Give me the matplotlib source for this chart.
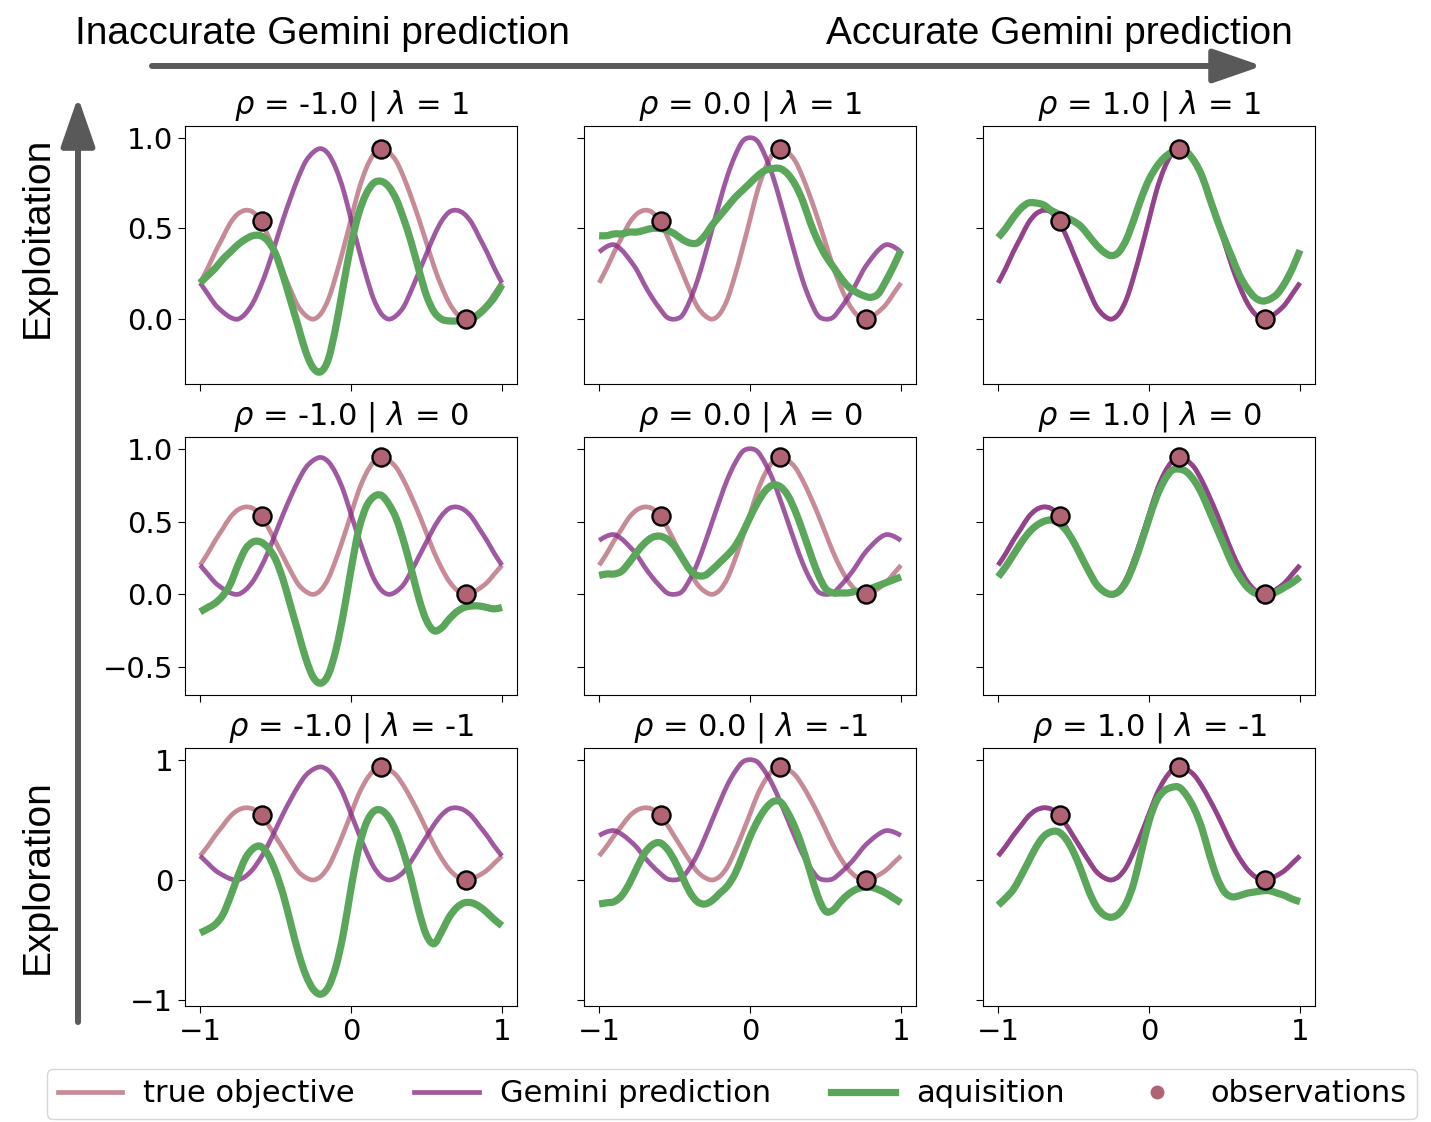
import matplotlib
matplotlib.use("Agg")
import matplotlib.pyplot as plt
import numpy as np
from matplotlib.lines import Line2D
from matplotlib.path import Path
from matplotlib.patches import PathPatch, FancyArrowPatch

# ---------------------------------------------------------------------------
# Data
# ---------------------------------------------------------------------------

x_grid = np.linspace(-1.0, 1.0, 41)

true_objective = [0.20, 0.28, 0.37, 0.45, 0.53, 0.58, 0.60, 0.59, 0.54, 0.46,
                  0.36, 0.26, 0.16, 0.07, 0.02, 0.00, 0.03, 0.11, 0.24, 0.39,
                  0.55, 0.71, 0.83, 0.91, 0.94, 0.92, 0.87, 0.78, 0.67, 0.55,
                  0.42, 0.29, 0.18, 0.09, 0.03, 0.00, 0.01, 0.04, 0.08, 0.14,
                  0.20]

pred_rho_m1 = [0.20, 0.14, 0.08, 0.04, 0.01, 0.00, 0.03, 0.09, 0.18, 0.29,
               0.42, 0.55, 0.67, 0.78, 0.87, 0.92, 0.94, 0.91, 0.83, 0.71,
               0.55, 0.39, 0.24, 0.11, 0.03, 0.00, 0.02, 0.07, 0.16, 0.26,
               0.36, 0.46, 0.54, 0.59, 0.60, 0.58, 0.53, 0.45, 0.37, 0.28,
               0.20]
pred_rho_0 = [0.37, 0.40, 0.41, 0.38, 0.33, 0.27, 0.19, 0.12, 0.06, 0.01,
              0.00, 0.02, 0.10, 0.21, 0.35, 0.50, 0.65, 0.79, 0.90, 0.98,
              1.00, 0.98, 0.90, 0.79, 0.65, 0.50, 0.35, 0.21, 0.10, 0.02,
              0.00, 0.01, 0.06, 0.12, 0.19, 0.27, 0.33, 0.38, 0.41, 0.40,
              0.37]
pred_rho_p1 = list(true_objective)

# acquisition curves, one per (rho, lambda) panel
acq_rm1_l1 = [0.20, 0.24, 0.28, 0.33, 0.37, 0.41, 0.44, 0.46, 0.46, 0.43,
              0.36, 0.24, 0.10, -0.04, -0.18, -0.27, -0.29, -0.22, -0.04, 0.19,
              0.41, 0.58, 0.69, 0.75, 0.76, 0.73, 0.66, 0.55, 0.42, 0.27,
              0.13, 0.04, 0.00, -0.01, -0.01, -0.01, 0.00, 0.03, 0.07, 0.12,
              0.19]
acq_r0_l1 = [0.46, 0.46, 0.47, 0.47, 0.48, 0.48, 0.49, 0.50, 0.50, 0.49,
             0.47, 0.44, 0.42, 0.42, 0.46, 0.52, 0.57, 0.62, 0.67, 0.71,
             0.75, 0.79, 0.82, 0.83, 0.83, 0.80, 0.74, 0.65, 0.53, 0.43,
             0.35, 0.29, 0.23, 0.18, 0.15, 0.13, 0.12, 0.14, 0.21, 0.29,
             0.38]
acq_rp1_l1 = [0.45, 0.50, 0.56, 0.61, 0.64, 0.64, 0.63, 0.60, 0.58, 0.56,
              0.54, 0.51, 0.46, 0.41, 0.37, 0.35, 0.37, 0.44, 0.55, 0.67,
              0.77, 0.84, 0.89, 0.92, 0.93, 0.92, 0.87, 0.79, 0.67, 0.55,
              0.44, 0.34, 0.24, 0.17, 0.12, 0.10, 0.11, 0.14, 0.20, 0.28,
              0.38]
acq_rm1_l0 = [-0.12, -0.09, -0.06, -0.01, 0.07, 0.20, 0.31, 0.36, 0.36, 0.32,
              0.24, 0.10, -0.08, -0.26, -0.44, -0.57, -0.61, -0.55, -0.38, -0.13,
              0.17, 0.44, 0.60, 0.67, 0.68, 0.62, 0.52, 0.36, 0.17, -0.03,
              -0.18, -0.25, -0.23, -0.17, -0.12, -0.09, -0.08, -0.08, -0.09, -0.10,
              -0.09]
acq_r0_l0 = [0.13, 0.14, 0.14, 0.16, 0.22, 0.29, 0.35, 0.39, 0.40, 0.38,
             0.33, 0.25, 0.17, 0.13, 0.13, 0.17, 0.22, 0.27, 0.33, 0.42,
             0.53, 0.63, 0.71, 0.75, 0.74, 0.68, 0.57, 0.43, 0.28, 0.14,
             0.04, 0.01, 0.01, 0.01, 0.02, 0.02, 0.04, 0.06, 0.08, 0.10,
             0.12]
acq_rp1_l0 = [0.12, 0.19, 0.27, 0.35, 0.42, 0.47, 0.50, 0.51, 0.49, 0.44,
              0.36, 0.26, 0.16, 0.07, 0.02, 0.00, 0.02, 0.09, 0.21, 0.36,
              0.52, 0.67, 0.78, 0.85, 0.86, 0.84, 0.78, 0.69, 0.57, 0.45,
              0.33, 0.21, 0.12, 0.05, 0.01, 0.00, 0.00, 0.02, 0.05, 0.08,
              0.12]
acq_rm1_lm1 = [-0.44, -0.41, -0.37, -0.29, -0.14, 0.03, 0.18, 0.26, 0.28, 0.21,
               0.07, -0.12, -0.36, -0.60, -0.79, -0.91, -0.95, -0.89, -0.72, -0.44,
               -0.07, 0.26, 0.47, 0.57, 0.58, 0.52, 0.40, 0.22, 0.00, -0.26,
               -0.46, -0.53, -0.43, -0.31, -0.23, -0.19, -0.19, -0.22, -0.27, -0.33,
               -0.38]
acq_r0_lm1 = [-0.20, -0.19, -0.18, -0.13, -0.03, 0.10, 0.22, 0.29, 0.31, 0.26,
              0.16, 0.03, -0.10, -0.18, -0.20, -0.17, -0.11, -0.05, 0.05, 0.20,
              0.36, 0.49, 0.59, 0.65, 0.65, 0.56, 0.43, 0.26, 0.06, -0.14,
              -0.26, -0.25, -0.18, -0.12, -0.08, -0.06, -0.06, -0.08, -0.11, -0.15,
              -0.19]
acq_rp1_lm1 = [-0.21, -0.15, -0.08, 0.03, 0.15, 0.27, 0.36, 0.40, 0.40, 0.34,
               0.23, 0.08, -0.09, -0.22, -0.29, -0.31, -0.28, -0.19, -0.02, 0.24,
               0.49, 0.66, 0.74, 0.77, 0.77, 0.70, 0.59, 0.43, 0.21, 0.02,
               -0.10, -0.14, -0.13, -0.11, -0.10, -0.09, -0.09, -0.11, -0.13, -0.16,
               -0.18]

obs_x = [-0.59, 0.20, 0.765]
obs_y = [0.54, 0.94, 0.00]

rho_labels = ["-1.0", "0.0", "1.0"]
lam_labels = ["1", "0", "-1"]
predictions = [pred_rho_m1, pred_rho_0, pred_rho_p1]
acquisitions = [
    [acq_rm1_l1, acq_r0_l1, acq_rp1_l1],
    [acq_rm1_l0, acq_r0_l0, acq_rp1_l0],
    [acq_rm1_lm1, acq_r0_lm1, acq_rp1_lm1],
]
row_yticks = [[0.0, 0.5, 1.0], [-0.5, 0.0, 0.5, 1.0], [-1, 0, 1]]
row_ylabels = [["0.0", "0.5", "1.0"],
               ["\u22120.5", "0.0", "0.5", "1.0"],
               ["\u22121", "0", "1"]]

# ---------------------------------------------------------------------------
# Style
# ---------------------------------------------------------------------------

C_TRUE = "#b56576"
C_PRED = "#87308a"
C_ACQ = "#5aa65a"
C_OBS = "#b06473"
C_ARROW = "#595959"
FS = 21
LW_THIN = 3.4
LW_ACQ = 5.2

plt.rcParams.update({
    "font.family": "DejaVu Sans",
    "font.size": FS,
    "xtick.labelsize": FS,
    "ytick.labelsize": FS,
    "xtick.major.size": 5,
    "ytick.major.size": 5,
})


def smooth_curve(ax, xs, ys, **kw):
    """Draw a curve through the points as a Catmull-Rom Bezier path."""
    p = np.column_stack([xs, ys]).astype(float)
    ext = np.vstack([2 * p[0] - p[1], p, 2 * p[-1] - p[-2]])
    verts = [p[0]]
    codes = [Path.MOVETO]
    for i in range(1, len(ext) - 2):
        c1 = ext[i] + (ext[i + 1] - ext[i - 1]) / 6.0
        c2 = ext[i + 1] - (ext[i + 2] - ext[i]) / 6.0
        verts += [c1, c2, ext[i + 1]]
        codes += [Path.CURVE4] * 3
    patch = PathPatch(Path(verts, codes), fill=False, capstyle="butt",
                      joinstyle="round", **kw)
    ax.add_patch(patch)
    ax.update_datalim(p)
    ax.autoscale_view()
    return patch


fig = plt.figure(figsize=(14.31, 11.22), dpi=100)
axes = fig.subplots(3, 3, sharex=True, sharey="row")
fig.subplots_adjust(left=0.1293, right=0.919, top=0.8877, bottom=0.1034,
                    wspace=0.2018, hspace=0.2054)

for r in range(3):
    for c in range(3):
        ax = axes[r, c]
        smooth_curve(ax, x_grid, true_objective, edgecolor=C_TRUE,
                     lw=LW_THIN, alpha=0.75, zorder=2)
        smooth_curve(ax, x_grid, predictions[c], edgecolor=C_PRED,
                     lw=LW_THIN, alpha=0.8, zorder=2.1)
        smooth_curve(ax, x_grid, acquisitions[r][c], edgecolor=C_ACQ,
                     lw=LW_ACQ, zorder=2.2)
        ax.plot(obs_x, obs_y, "o", color=C_OBS, ms=13, mec="black",
                mew=1.7, zorder=5)
        ax.set_title(rf"$\rho$ = {rho_labels[c]} | $\lambda$ = {lam_labels[r]}",
                     fontsize=22, pad=9)
        ax.set_xticks([-1, 0, 1])
        ax.set_yticks(row_yticks[r])
        ax.margins(x=0.05, y=0.05)
    axes[r, 0].set_yticklabels(row_ylabels[r])
for c in range(3):
    axes[2, c].set_xticklabels(["\u22121", "0", "1"])

# ---------------------------------------------------------------------------
# Legend
# ---------------------------------------------------------------------------

handles = [
    Line2D([], [], color=C_TRUE, lw=LW_THIN, alpha=0.75),
    Line2D([], [], color=C_PRED, lw=LW_THIN, alpha=0.8),
    Line2D([], [], color=C_ACQ, lw=LW_ACQ),
    Line2D([], [], ls="none", marker="o", ms=9, color=C_OBS, mec=C_OBS),
]
labels = ["true objective", "Gemini prediction", "aquisition", "observations"]
fig.legend(handles, labels, loc="center", bbox_to_anchor=(0.5115, 0.0250),
           ncol=4, fontsize=22, handlelength=2.1, handletextpad=0.7,
           columnspacing=1.95, borderpad=0.35, frameon=True, fancybox=True)

# ---------------------------------------------------------------------------
# Annotation arrows and captions
# ---------------------------------------------------------------------------

arrow_style = "-|>,head_length=0.75,head_width=0.26"
fig.add_artist(FancyArrowPatch(
    (0.1062, 0.9412), (0.8819, 0.9412), transform=fig.transFigure,
    arrowstyle=arrow_style, mutation_scale=40, lw=4.3, color=C_ARROW,
    shrinkA=0, shrinkB=0))
fig.add_artist(FancyArrowPatch(
    (0.0545, 0.0891), (0.0545, 0.9135), transform=fig.transFigure,
    arrowstyle=arrow_style, mutation_scale=40, lw=4.3, color=C_ARROW,
    shrinkA=0, shrinkB=0))

cap = dict(family="Liberation Sans", fontsize=28, color="black")
fig.text(0.0524, 0.9700, "Inaccurate Gemini prediction", ha="left",
         va="center", **cap)
fig.text(0.5772, 0.9700, "Accurate Gemini prediction", ha="left",
         va="center", **cap)
fig.text(0.0266, 0.7888, "Exploitation", rotation=90, ha="center",
         va="center", **cap)
fig.text(0.0266, 0.2184, "Exploration", rotation=90, ha="center",
         va="center", **cap)

fig.savefig("out.png", dpi=100)
